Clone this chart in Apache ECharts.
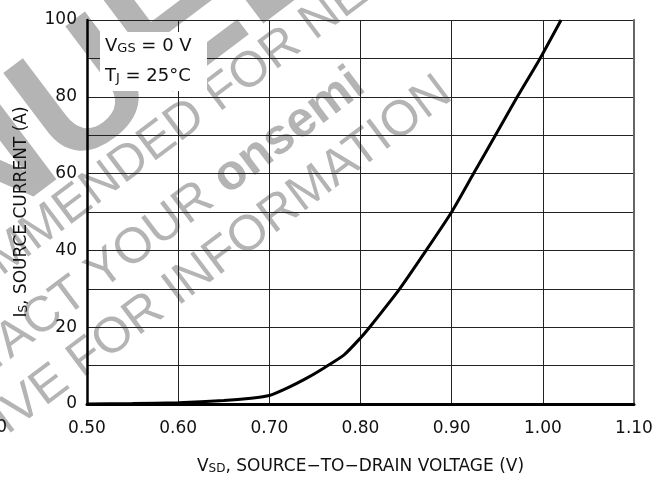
<!DOCTYPE html>
<html>
<head>
<meta charset="utf-8">
<script src="https://cdn.jsdelivr.net/npm/echarts@6/dist/echarts.min.js"></script>
<style>
  html, body { margin: 0; padding: 0; background: #fff; }
  #chart { width: 664px; height: 481px; }
</style>
</head>
<body>
<div id="chart"></div>
<script>
// source current vs source-to-drain voltage
var vsd = [0.50, 0.55, 0.60, 0.65, 0.68, 0.70, 0.72, 0.74, 0.76, 0.782, 0.80, 0.81, 0.843, 0.872, 0.90, 0.924, 0.948, 0.972, 0.997, 1.02];
var isCurrent = [0, 0.1, 0.35, 0.9, 1.5, 2.2, 4.2, 6.6, 9.4, 12.8, 17.2, 20, 30, 40, 50, 60, 70, 80, 90, 100];
var xTicks = [0.50, 0.60, 0.70, 0.80, 0.90, 1.00, 1.10];
var yTicks = [0, 20, 40, 60, 80, 100];

var font = '"DejaVu Sans", "Liberation Sans", Arial, sans-serif';
var wmFont = '"Liberation Sans", Arial, Helvetica, sans-serif';
var gray = '#b4b4b4';
var rot = 37 * Math.PI / 180;

var chart = echarts.init(document.getElementById('chart'));

var subRich = function (big, small, color) {
  return {
    m: { fontSize: big, color: color, fill: color, fontFamily: font, verticalAlign: 'middle', lineHeight: big },
    s: { fontSize: small, color: color, fill: color, fontFamily: font, verticalAlign: 'bottom', lineHeight: small, padding: [8, 0, 0, 0] }
  };
};

var option = {
  backgroundColor: '#fff',
  animation: false,
  textStyle: { fontFamily: font },
  grid: { left: 87, right: 30, top: 20, bottom: 77 },
  xAxis: {
    type: 'value',
    min: 0.5, max: 1.1, interval: 0.1,
    name: '{m|V}{s|SD}{m|, SOURCE\u2212TO\u2212DRAIN VOLTAGE (V)}',
    nameLocation: 'middle',
    nameGap: 54,
    nameTextStyle: { rich: subRich(17, 12, '#111') },
    axisLine: { onZero: false, lineStyle: { color: '#000', width: 3 } },
    axisTick: { show: false },
    axisLabel: {
      margin: 16, fontSize: 17, color: '#111', fontFamily: font,
      formatter: function (v) {
        var t = xTicks.find(function (k) { return Math.abs(k - v) < 1e-6; });
        return t === undefined ? '' : t.toFixed(2);
      }
    },
    splitLine: { show: true, lineStyle: { color: '#222', width: 1 } }
  },
  yAxis: [{
    type: 'value',
    min: 0, max: 100, interval: 10,
    name: '{m|I}{s|S}{m|, SOURCE CURRENT (A)}',
    nameLocation: 'middle',
    nameGap: 57,
    nameRotate: 90,
    nameTextStyle: { rich: subRich(17, 12, '#111') },
    axisLine: { show: true, onZero: false, lineStyle: { color: '#000', width: 2.5 } },
    axisTick: { show: false },
    axisLabel: {
      margin: 10, fontSize: 17, color: '#111', fontFamily: font,
      formatter: function (v) { return yTicks.indexOf(v) >= 0 ? String(v) : ''; }
    },
    splitLine: { show: true, lineStyle: { color: '#222', width: 1 } }
  }, {
    type: 'value',
    position: 'right',
    min: 0, max: 100, interval: 10,
    axisLine: { show: true, lineStyle: { color: '#666', width: 2 } },
    axisTick: { show: false },
    axisLabel: { show: false },
    splitLine: { show: false }
  }],
  graphic: [
    // archive watermark
    {
      type: 'text', z: -10, x: 324, y: -81, rotation: rot,
      style: { text: 'DISCONTINUED', font: 'bold 170px ' + wmFont, fill: gray, align: 'right', verticalAlign: 'middle' }
    },
    {
      type: 'text', z: -10, x: 173, y: 130, rotation: rot,
      style: { text: 'NOT RECOMMENDED FOR NEW DESIGN', font: '50px ' + wmFont, fill: gray, align: 'center', verticalAlign: 'middle' }
    },
    {
      type: 'text', z: -10, x: 359, y: 79, rotation: rot,
      style: {
        text: '{n|CONTACT YOUR }{b|onsemi}', fill: gray, align: 'right', verticalAlign: 'middle',
        rich: {
          n: { font: '50px ' + wmFont, fill: gray },
          b: { font: 'bold 50px ' + wmFont, fill: gray }
        }
      }
    },
    {
      type: 'text', z: -10, x: 446, y: 87, rotation: rot,
      style: { text: 'REPRESENTATIVE FOR INFORMATION', font: '50px ' + wmFont, fill: gray, align: 'right', verticalAlign: 'middle' }
    },
    // conditions box
    {
      type: 'rect', z: 10, shape: { x: 100, y: 32, width: 107, height: 59 },
      style: { fill: '#fff' }
    },
    {
      type: 'text', z: 11, x: 105, y: 46,
      style: { text: '{m|V}{s|GS}{m| = 0 V}', verticalAlign: 'middle', rich: subRich(18, 13, '#111') }
    },
    {
      type: 'text', z: 11, x: 105, y: 76,
      style: { text: '{m|T}{s|J}{m| = 25\u00b0C}', verticalAlign: 'middle', rich: subRich(18, 13, '#111') }
    },
    {
      type: 'text', z: 11, x: 7, y: 428,
      style: { text: '0', font: '17px ' + font, fill: '#111', align: 'right', verticalAlign: 'middle' }
    }
  ],
  series: [{
    type: 'line',
    data: vsd.map(function (v, i) { return [v, isCurrent[i]]; }),
    showSymbol: false,
    smooth: 0.2,
    lineStyle: { color: '#000', width: 3 },
    z: 5
  }]
};

chart.setOption(option);
</script>
</body>
</html>
